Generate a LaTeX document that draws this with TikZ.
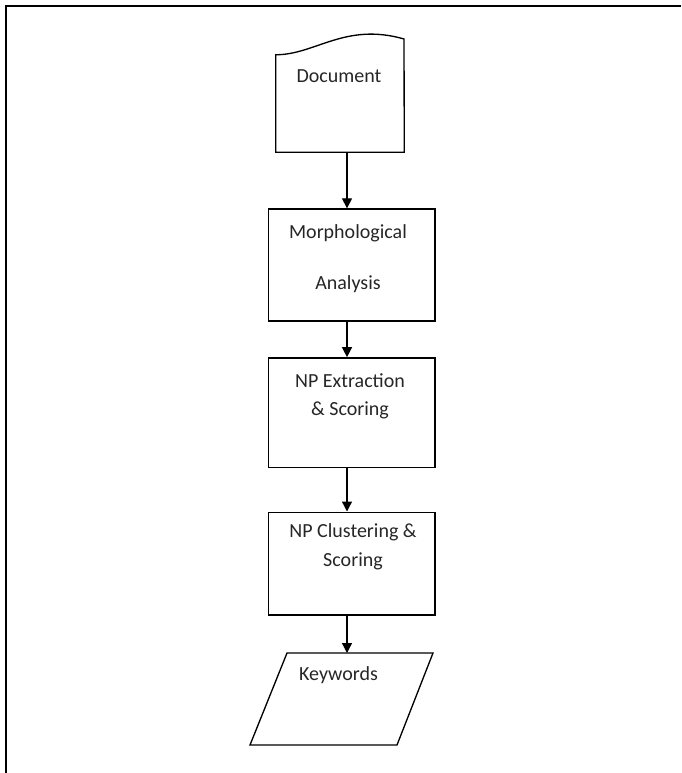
\documentclass[tikz,border=0pt]{standalone}
\usepackage{fontspec}
\setmainfont{Carlito}
\usetikzlibrary{arrows.meta, positioning}
\tikzstyle{caja} = [draw, line width=1pt, rectangle, minimum width=125pt, inner sep=0pt]
\tikzstyle{forma} = [draw=none, rectangle, inner sep=0pt]
\tikzstyle{texto} = [align=center, inner sep=0pt, text=black!85]
\tikzstyle{flecha} = [line width=1pt, -{Triangle[length=7.5pt, width=7.5pt]}]
\tikzstyle{marco} = [line width=1.5pt]

\begin{document}
\begin{tikzpicture}[x=0.75pt, y=-0.75pt]
	\useasboundingbox (0,0) rectangle (681,773);
	\draw[marco] (6,773) -- (6,6) -- (681,6);
	\coordinate (eje) at (347,0);
	% documento
	\node[forma, minimum width=96pt, minimum height=72.75pt] (doc) at (340,103.5) {};
	\draw[line width=1pt] (doc.north west) .. controls (315,55) and (345,22) .. (404,39)
		-- (doc.south east) -- (doc.south west) -- cycle;
	\node[texto, font=\fontsize{15}{18}\selectfont] (doctxt) at (339,76) {Document};
	% procesos
	\node[caja, minimum height=84pt] (morf) at (351.5,265) {};
	\node[texto, font=\fontsize{15}{38.25}\selectfont] (morftxt) at (348,258.5) {Morphological\\Analysis};
	\node[caja, minimum height=82pt] (npe) at (351.5,412.5) {};
	\node[texto, font=\fontsize{15}{21}\selectfont] (npetxt) at (350,396) {NP Extraction\\\& Scoring};
	\node[caja, minimum height=77pt] (npc) at (351.5,563.5) {};
	\node[texto, font=\fontsize{15}{21.75}\selectfont] (npctxt) at (353,546.5) {NP Clustering \&\\Scoring};
	% salida
	\coordinate (kw) at (347,653);
	\draw[line width=1pt] (287,653) -- (433,653) -- (397,745) -- (250,745) -- cycle;
	\node[texto, font=\fontsize{15}{18}\selectfont] (kwtxt) at (338.5,675) {Keywords};
	% flechas
	\draw[flecha] (doc.south -| eje) -- (morf.north -| eje);
	\draw[flecha] (morf.south -| eje) -- (npe.north -| eje);
	\draw[flecha] (npe.south -| eje) -- (npc.north -| eje);
	\draw[flecha] (npc.south -| eje) -- (kw);
\end{tikzpicture}
\end{document}
